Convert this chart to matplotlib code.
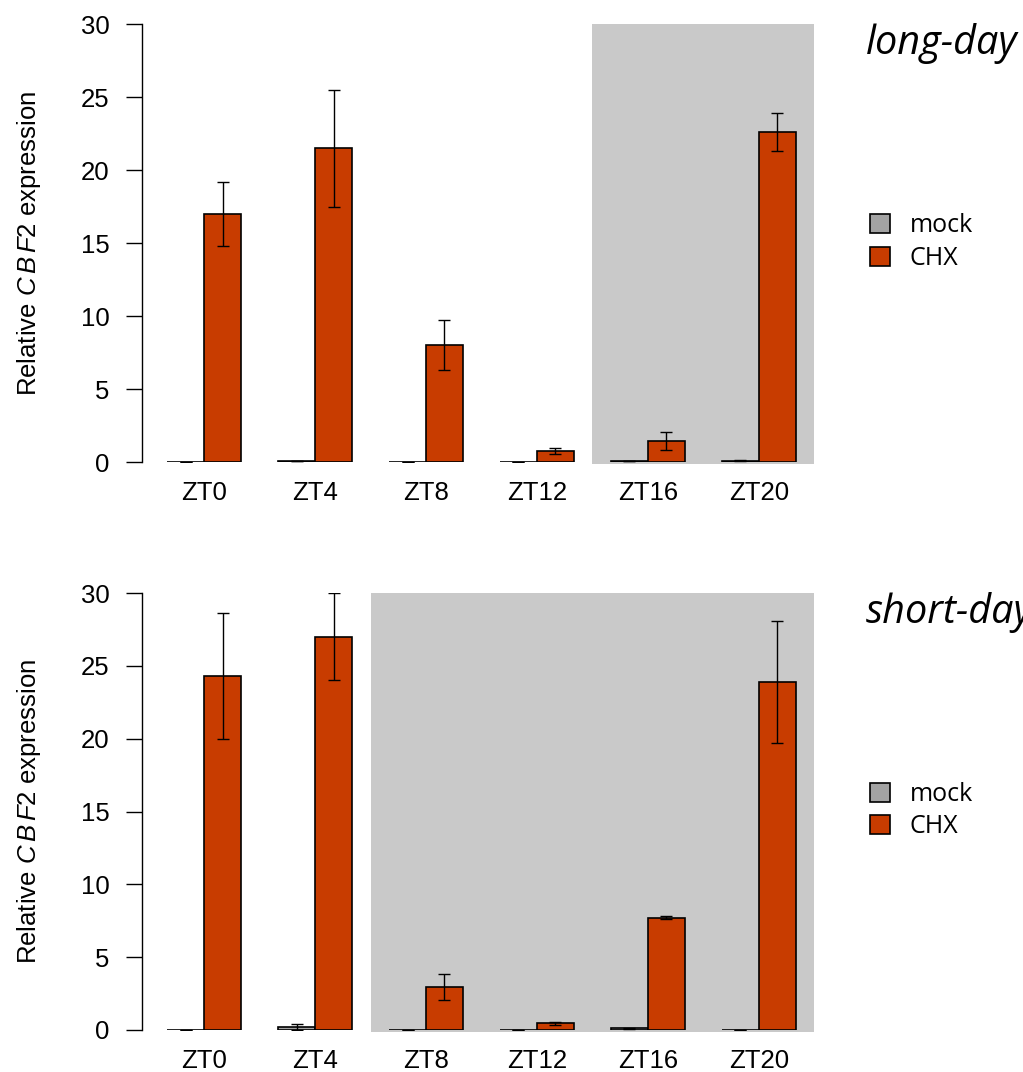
import numpy as np
import matplotlib
matplotlib.use("Agg")
import matplotlib.pyplot as plt
from matplotlib.patches import Patch

plt.rcParams['font.family'] = ['Liberation Sans', 'DejaVu Sans']
plt.rcParams['mathtext.fontset'] = 'custom'
plt.rcParams['mathtext.it'] = 'Liberation Sans:italic'
plt.rcParams['mathtext.rm'] = 'Liberation Sans'

# data
times = ["ZT0", "ZT4", "ZT8", "ZT12", "ZT16", "ZT20"]

ld_mock = [0.03, 0.05, 0.03, 0.03, 0.04, 0.1]
ld_mock_err = [0.0, 0.0, 0.0, 0.0, 0.0, 0.02]
ld_chx = [17.0, 21.5, 8.0, 0.77, 1.44, 22.6]
ld_chx_err = [2.2, 4.0, 1.7, 0.19, 0.6, 1.3]

sd_mock = [0.02, 0.2, 0.02, 0.03, 0.13, 0.02]
sd_mock_err = [0.0, 0.2, 0.0, 0.0, 0.03, 0.0]
sd_chx = [24.3, 27.0, 2.95, 0.45, 7.7, 23.9]
sd_chx_err = [4.35, 3.0, 0.9, 0.12, 0.1, 4.2]

ld_dark_start = 4   # first group in the dark
sd_dark_start = 2

mock_col = "#a3a3a3"
chx_col = "#c83c00"
shade_col = "#c9c9c9"

fig = plt.figure(figsize=(10.23, 10.72), dpi=100)
ax1 = fig.add_axes([0.1388, 0.569, 0.6637, 0.4086])
ax2 = fig.add_axes([0.1388, 0.0392, 0.6637, 0.4076])

n = len(times)
left_mock = 1 + 3 * np.arange(n)
left_chx = 2 + 3 * np.arange(n)
ticks = left_chx


def panel(ax, mock, mock_err, chx, chx_err, dark, title):
    x0 = left_mock[dark] - 0.5
    x1 = left_chx[-1] + 1.5
    ax.add_patch(plt.Rectangle((x0, -0.15), x1 - x0, 30.15, color=shade_col,
                               lw=0, clip_on=False, zorder=0))
    ax.bar(left_mock, mock, width=1, align='edge', color=mock_col,
           edgecolor='black', lw=1.2, zorder=2)
    ax.bar(left_chx, chx, width=1, align='edge', color=chx_col,
           edgecolor='black', lw=1.2, zorder=2)
    ax.errorbar(left_mock + 0.5, mock, yerr=mock_err, fmt='none', ecolor='black',
                elinewidth=1.0, capsize=4, capthick=1.0, zorder=3)
    ax.errorbar(left_chx + 0.5, chx, yerr=chx_err, fmt='none', ecolor='black',
                elinewidth=1.0, capsize=4, capthick=1.0, zorder=3)
    ax.set_xlim(0.32, 18.68)
    ax.set_ylim(0, 30)
    ax.set_xticks(ticks)
    ax.set_xticklabels(times)
    ax.set_yticks([0, 5, 10, 15, 20, 25, 30])
    ax.tick_params(axis='x', length=0, pad=14, labelsize=18.5)
    ax.tick_params(axis='y', length=11.5, width=1.0, pad=12, labelsize=18.5)
    for s in ['top', 'right', 'bottom']:
        ax.spines[s].set_visible(False)
    ax.spines['left'].set_bounds(0, 30)
    ax.spines['left'].set_linewidth(1.0)
    ax.set_ylabel(r'Relative $\mathit{C\,B\,F}$2 expression', fontsize=18.5,
                  labelpad=27)
    ax.text(1.066, 0.955, title, transform=ax.transAxes, fontsize=28.5,
            family='Open Sans', style='italic', va='center', ha='left',
            clip_on=False)
    handles = [Patch(facecolor=mock_col, edgecolor='black', lw=1.2, label='mock'),
               Patch(facecolor=chx_col, edgecolor='black', lw=1.2, label='CHX')]
    ax.legend(handles=handles, loc='center left', bbox_to_anchor=(1.072, 0.502),
              frameon=False, prop={'family': 'Open Sans', 'size': 18},
              handlelength=0.8, handleheight=0.8, handletextpad=0.8,
              labelspacing=0.3, borderpad=0, borderaxespad=0)


panel(ax1, ld_mock, ld_mock_err, ld_chx, ld_chx_err, ld_dark_start, "long-day")
panel(ax2, sd_mock, sd_mock_err, sd_chx, sd_chx_err, sd_dark_start, "short-day")

fig.savefig("out.png", dpi=100)
